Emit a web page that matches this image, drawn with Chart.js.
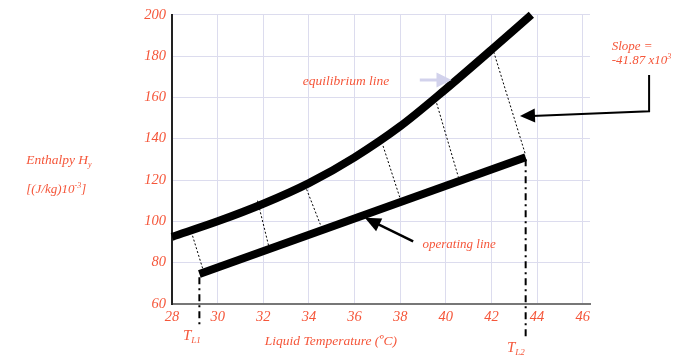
<!DOCTYPE html>
<html>
<head>
<meta charset="utf-8">
<script src="https://cdn.jsdelivr.net/npm/chart.js@4/dist/chart.umd.min.js"></script>
<style>
  html, body { margin: 0; padding: 0; background: #fff; }
  #wrap { width: 673px; height: 357px; position: relative; }
</style>
</head>
<body>
<div id="wrap"><canvas id="c" width="673" height="357"></canvas></div>
<script>
// ---- data ----
const tempTicks = [28, 30, 32, 34, 36, 38, 40, 42, 44, 46];
const enthalpyTicks = [60, 80, 100, 120, 140, 160, 180, 200];

const eqTemp = [28, 30, 32, 34, 36, 38, 40, 42, 43.75];
const eqEnth = [92.5, 100, 108.5, 118.5, 131, 146, 164, 183, 200];

const opTemp = [29.2, 43.5];
const opEnth = [74.5, 131];

// tie lines: from equilibrium side to operating side
const tieEqTemp = [28.9, 31.75, 33.9, 37.25, 39.55, 42.1];
const tieEqEnth = [93, 110, 115.5, 136.5, 159, 182];
const tieOpTemp = [29.35, 32.25, 34.5, 38.0, 40.55, 43.5];
const tieOpEnth = [77, 87.5, 98.5, 111, 121.5, 132];

// dash-dot verticals (T_L1, T_L2)
const vertTemp = [29.2, 43.5];
const vertTop = [73, 130];
const vertBottom = [50, 43];

const labelColor = '#f5563a';
const serif = '"Liberation Serif", "Times New Roman", serif';

// ---- datasets ----
const datasets = [];
datasets.push({
  label: 'equilibrium line',
  data: eqTemp.map((t, i) => ({ x: t, y: eqEnth[i] })),
  borderColor: '#000', borderWidth: 8, pointRadius: 0,
  cubicInterpolationMode: 'monotone', borderCapStyle: 'butt', clip: false
});
datasets.push({
  label: 'operating line',
  data: opTemp.map((t, i) => ({ x: t, y: opEnth[i] })),
  borderColor: '#000', borderWidth: 8, pointRadius: 0,
  borderCapStyle: 'butt', clip: false
});
tieEqTemp.forEach((t, i) => {
  datasets.push({
    label: 'tie' + i,
    data: [{ x: t, y: tieEqEnth[i] }, { x: tieOpTemp[i], y: tieOpEnth[i] }],
    borderColor: '#000', borderWidth: 1, borderDash: [2, 2], pointRadius: 0, clip: false
  });
});
vertTemp.forEach((t, i) => {
  datasets.push({
    label: 'vert' + i,
    data: [{ x: t, y: vertTop[i] }, { x: t, y: vertBottom[i] }],
    borderColor: '#000', borderWidth: 2, borderDash: [7, 4, 2, 4], pointRadius: 0, clip: false
  });
});

// ---- annotations (data coordinates) ----
const texts = [
  { parts: [{ t: 'equilibrium line' }], x: 33.73, y: 167.8, size: 13.5 },
  { parts: [{ t: 'operating line' }], x: 38.98, y: 88.6, size: 13 },
  { parts: [{ t: 'Slope =' }], x: 47.27, y: 184.6, size: 13 },
  { parts: [{ t: '-41.87 x10' }, { t: '3', sup: true }], x: 47.27, y: 177.6, size: 13 },
  { parts: [{ t: 'Enthalpy H' }, { t: 'y', sub: true }], x: 21.61, y: 129.5, size: 13.5 },
  { parts: [{ t: '[(J/kg)10' }, { t: '-3', sup: true }, { t: ']' }], x: 21.61, y: 115.4, size: 13 },
  { parts: [{ t: 'Liquid Temperature (ºC)' }], x: 32.07, y: 41.7, size: 13.5 },
  { parts: [{ t: 'T' }, { t: 'L1', sub: true }], x: 28.48, y: 44.5, size: 15 },
  { parts: [{ t: 'T' }, { t: 'L2', sub: true }], x: 42.68, y: 38.6, size: 15 }
];
const lavArrow = { from: [38.86, 168.4], to: [40.25, 168.4] };
const opArrow = { from: [38.57, 90.3], to: [36.45, 101.7] };
const slopeArrow = [[48.91, 170.8], [48.91, 153.3], [43.25, 151.0]];

function drawText(ctx, item, xs, ys) {
  let x = xs.getPixelForValue(item.x);
  const y = ys.getPixelForValue(item.y);
  ctx.textBaseline = 'middle';
  ctx.textAlign = 'left';
  ctx.fillStyle = labelColor;
  item.parts.forEach(p => {
    const small = p.sup || p.sub;
    const size = small ? Math.round(item.size * 0.62) : item.size;
    ctx.font = 'italic ' + size + 'px ' + serif;
    const dy = p.sup ? -item.size * 0.3 : (p.sub ? item.size * 0.3 : 0);
    ctx.fillText(p.t, x, y + dy);
    x += ctx.measureText(p.t).width;
  });
}

function arrowHead(ctx, x1, y1, x2, y2, len, half, color) {
  const a = Math.atan2(y2 - y1, x2 - x1);
  const bx = x2 - len * Math.cos(a), by = y2 - len * Math.sin(a);
  ctx.beginPath();
  ctx.moveTo(x2, y2);
  ctx.lineTo(bx + half * Math.sin(a), by - half * Math.cos(a));
  ctx.lineTo(bx - half * Math.sin(a), by + half * Math.cos(a));
  ctx.closePath();
  ctx.fillStyle = color;
  ctx.fill();
}

const annot = {
  id: 'annot',
  afterDatasetsDraw(chart) {
    const ctx = chart.ctx, xs = chart.scales.x, ys = chart.scales.y;
    const P = (p) => [xs.getPixelForValue(p[0]), ys.getPixelForValue(p[1])];
    ctx.save();
    // lavender arrow
    let [ax1, ay1] = P(lavArrow.from), [ax2, ay2] = P(lavArrow.to);
    ctx.strokeStyle = '#d2d2ec'; ctx.lineWidth = 3;
    ctx.beginPath(); ctx.moveTo(ax1, ay1); ctx.lineTo(ax2 - 12, ay2); ctx.stroke();
    arrowHead(ctx, ax1, ay1, ax2, ay2, 15, 7.5, '#d2d2ec');
    // operating line arrow
    [ax1, ay1] = P(opArrow.from); [ax2, ay2] = P(opArrow.to);
    ctx.strokeStyle = '#000'; ctx.lineWidth = 2.5;
    ctx.beginPath(); ctx.moveTo(ax1, ay1); ctx.lineTo(ax2 + (ax1 - ax2) * 0.25, ay2 + (ay1 - ay2) * 0.25); ctx.stroke();
    arrowHead(ctx, ax1, ay1, ax2, ay2, 16, 7, '#000');
    // slope bracket arrow
    const pts = slopeArrow.map(P);
    ctx.strokeStyle = '#000'; ctx.lineWidth = 2;
    ctx.beginPath();
    ctx.moveTo(pts[0][0], pts[0][1]);
    ctx.lineTo(pts[1][0], pts[1][1]);
    ctx.lineTo(pts[2][0] + 12, pts[2][1]);
    ctx.stroke();
    arrowHead(ctx, pts[1][0], pts[1][1], pts[2][0], pts[2][1], 15, 7, '#000');
    // texts
    texts.forEach(t => drawText(ctx, t, xs, ys));
    ctx.restore();
  }
};

new Chart(document.getElementById('c'), {
  type: 'line',
  data: { datasets },
  options: {
    responsive: false,
    animation: false,
    events: [],
    layout: { padding: { left: 122, right: 83, top: 10, bottom: 23 } },
    plugins: { legend: { display: false }, tooltip: { enabled: false } },
    scales: {
      x: {
        type: 'linear', min: 28, max: 46.32,
        afterBuildTicks: (s) => { s.ticks = tempTicks.map(v => ({ value: v })); },
        afterFit: (s) => { s.height = 30; },
        grid: { color: '#dcdcee', lineWidth: 1, drawTicks: false },
        border: { color: '#777', width: 2 },
        ticks: { color: labelColor, padding: 4, font: { family: serif, style: 'italic', size: 14.5 } }
      },
      y: {
        type: 'linear', min: 60, max: 200,
        afterBuildTicks: (s) => { s.ticks = enthalpyTicks.map(v => ({ value: v })); },
        afterFit: (s) => { s.width = 50; },
        grid: { color: '#dcdcee', lineWidth: 1, drawTicks: false },
        border: { color: '#222', width: 2 },
        ticks: { color: labelColor, padding: 6, font: { family: serif, style: 'italic', size: 14.5 } }
      }
    }
  },
  plugins: [annot]
});
</script>
</body>
</html>
